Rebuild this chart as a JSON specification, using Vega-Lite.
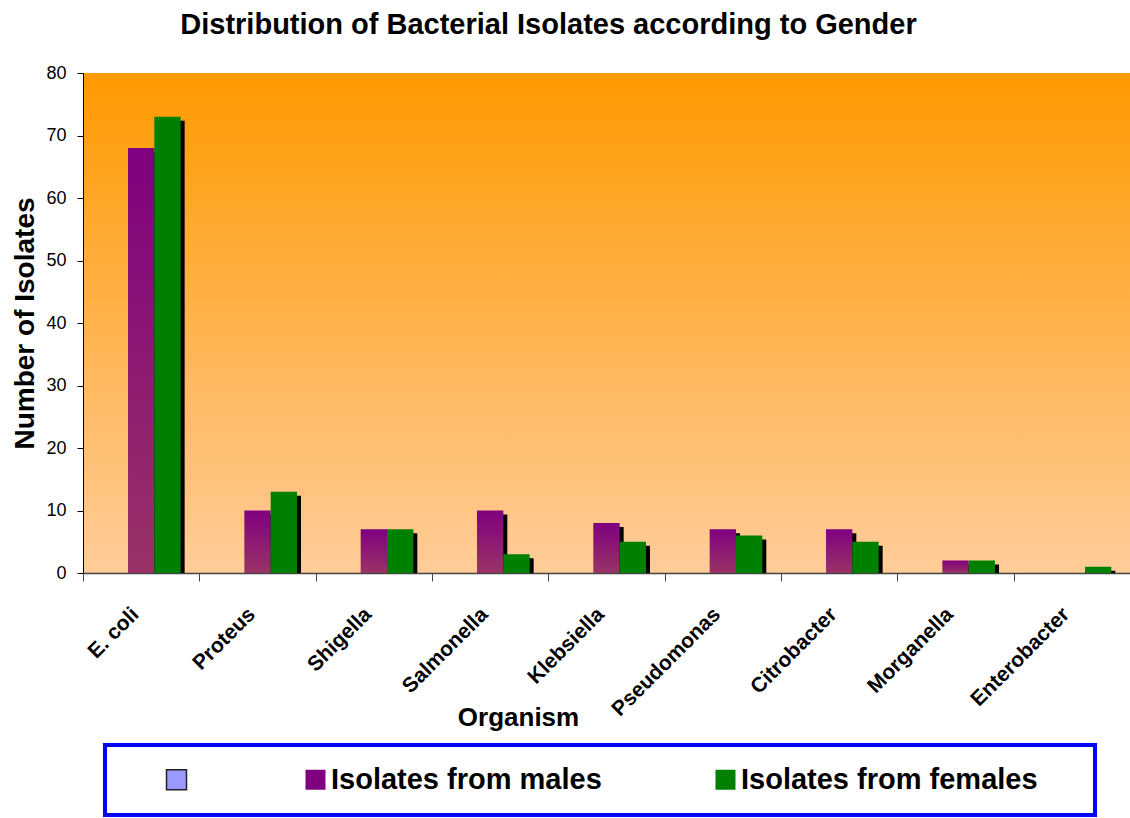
{
  "$schema": "https://vega.github.io/schema/vega-lite/v6.json",
  "width": 1047,
  "height": 500,
  "autosize": {"type": "none"},
  "padding": {"left": 83, "top": 73, "right": 0, "bottom": 245},
  "background": "white",
  "title": {
    "text": "Distribution of Bacterial Isolates according to Gender",
    "font": "Liberation Sans",
    "fontSize": 29,
    "fontWeight": "bold",
    "color": "black",
    "anchor": "middle",
    "frame": "group",
    "dx": -58,
    "offset": 24
  },
  "data": {
    "values": [
      {"organism": "E. coli", "series": "Isolates from males", "count": 68},
      {"organism": "E. coli", "series": "Isolates from females", "count": 73},
      {"organism": "Proteus", "series": "Isolates from males", "count": 10},
      {"organism": "Proteus", "series": "Isolates from females", "count": 13},
      {"organism": "Shigella", "series": "Isolates from males", "count": 7},
      {"organism": "Shigella", "series": "Isolates from females", "count": 7},
      {"organism": "Salmonella", "series": "Isolates from males", "count": 10},
      {"organism": "Salmonella", "series": "Isolates from females", "count": 3},
      {"organism": "Klebsiella", "series": "Isolates from males", "count": 8},
      {"organism": "Klebsiella", "series": "Isolates from females", "count": 5},
      {"organism": "Pseudomonas", "series": "Isolates from males", "count": 7},
      {"organism": "Pseudomonas", "series": "Isolates from females", "count": 6},
      {"organism": "Citrobacter", "series": "Isolates from males", "count": 7},
      {"organism": "Citrobacter", "series": "Isolates from females", "count": 5},
      {"organism": "Morganella", "series": "Isolates from males", "count": 2},
      {"organism": "Morganella", "series": "Isolates from females", "count": 2},
      {"organism": "Enterobacter", "series": "Isolates from females", "count": 1}
    ]
  },
  "config": {
    "font": "Liberation Sans",
    "view": {
      "stroke": null,
      "fill": {
        "gradient": "linear",
        "x1": 0, "y1": 0, "x2": 0, "y2": 1,
        "stops": [
          {"offset": 0, "color": "#FF9900"},
          {"offset": 1, "color": "#FFCC99"}
        ]
      }
    }
  },
  "encoding": {
    "x": {
      "field": "organism",
      "type": "nominal",
      "sort": ["E. coli", "Proteus", "Shigella", "Salmonella", "Klebsiella", "Pseudomonas", "Citrobacter", "Morganella", "Enterobacter"],
      "scale": {"paddingInner": 0, "paddingOuter": 0},
      "axis": {
        "title": "Organism",
        "titleFont": "Liberation Sans",
        "titleFontSize": 26,
        "titleFontWeight": "bold",
        "titleColor": "black",
        "titleX": 435,
        "titleY": 152,
        "titleBaseline": "alphabetic",
        "titleAlign": "center",
        "labelAngle": -45,
        "labelAlign": "right",
        "labelBaseline": "middle",
        "labelFont": "Liberation Sans",
        "labelFontSize": 21,
        "labelFontWeight": "bold",
        "labelColor": "black",
        "labelPadding": 30,
        "labelOffset": -6,
        "tickBand": "extent",
        "tickSize": 8,
        "tickColor": "#444444",
        "domainColor": "#444444",
        "domainWidth": 1.3,
        "grid": false
      }
    },
    "y": {
      "field": "count",
      "type": "quantitative",
      "scale": {"domain": [0, 80]},
      "axis": {
        "title": "Number of Isolates",
        "titleFont": "Liberation Sans",
        "titleFontSize": 28,
        "titleFontWeight": "bold",
        "titleColor": "black",
        "titleX": -50,
        "titleBaseline": "alphabetic",
        "values": [0, 10, 20, 30, 40, 50, 60, 70, 80],
        "labelFont": "Liberation Sans",
        "labelFontSize": 18,
        "labelColor": "black",
        "labelPadding": 11,
        "tickSize": 6,
        "tickColor": "black",
        "domainColor": "black",
        "grid": false
      }
    }
  },
  "layer": [
    {
      "mark": {"type": "bar", "color": "black", "yOffset": 4, "clip": true},
      "encoding": {
        "xOffset": {
          "field": "series",
          "type": "nominal",
          "scale": {
            "domain": ["", "Isolates from males", "Isolates from females"],
            "paddingInner": 0,
            "paddingOuter": 0.71,
            "align": 0.607
          }
        }
      }
    },
    {
      "mark": {"type": "bar"},
      "encoding": {
        "xOffset": {
          "field": "series",
          "type": "nominal",
          "scale": {
            "domain": ["", "Isolates from males", "Isolates from females"],
            "paddingInner": 0,
            "paddingOuter": 0.71
          }
        },
        "fill": {
          "field": "series",
          "type": "nominal",
          "scale": {
            "domain": ["", "Isolates from males", "Isolates from females"],
            "range": ["#9999FF", "#800080", "#008000"]
          },
          "condition": {
            "test": "datum.series === 'Isolates from males'",
            "value": {
              "gradient": "linear",
              "x1": 0, "y1": 0, "x2": 0, "y2": 1,
              "stops": [
                {"offset": 0, "color": "#800080"},
                {"offset": 1, "color": "#993366"}
              ]
            }
          },
          "legend": {
            "orient": "none",
            "legendX": 22,
            "legendY": 672,
            "direction": "horizontal",
            "title": " ",
            "titleOrient": "left",
            "titleFontSize": 10,
            "titlePadding": 37,
            "symbolType": "square",
            "symbolSize": 400,
            "symbolStrokeWidth": 0,
            "labelFont": "Liberation Sans",
            "labelFontSize": 29,
            "labelFontWeight": "bold",
            "labelColor": "black",
            "labelOffset": 1,
            "labelLimit": 0,
            "labelExpr": "datum.value === 'Isolates from females' ? datum.label + '\u00a0\u00a0\u2800' : datum.label",
            "columnPadding": 109,
            "padding": 20,
            "fillColor": "white",
            "strokeColor": "#0000FF",
            "encode": {
              "legend": {"update": {"strokeWidth": {"value": 4}}},
              "symbols": {
                "update": {
                  "fill": [
                    {
                      "test": "datum.value === 'Isolates from males'",
                      "value": {
                        "gradient": "linear",
                        "x1": 0, "y1": 0, "x2": 0, "y2": 1,
                        "stops": [
                          {"offset": 0, "color": "#800080"},
                          {"offset": 1, "color": "#993366"}
                        ]
                      }
                    },
                    {"test": "datum.value === ''", "value": "#9999FF"},
                    {"value": "#008000"}
                  ],
                  "stroke": [
                    {"test": "datum.value === ''", "value": "#222222"},
                    {"value": "transparent"}
                  ],
                  "strokeWidth": {"value": 1.5}
                }
              }
            }
          }
        }
      }
    }
  ],
  "resolve": {"scale": {"xOffset": "independent"}}
}
